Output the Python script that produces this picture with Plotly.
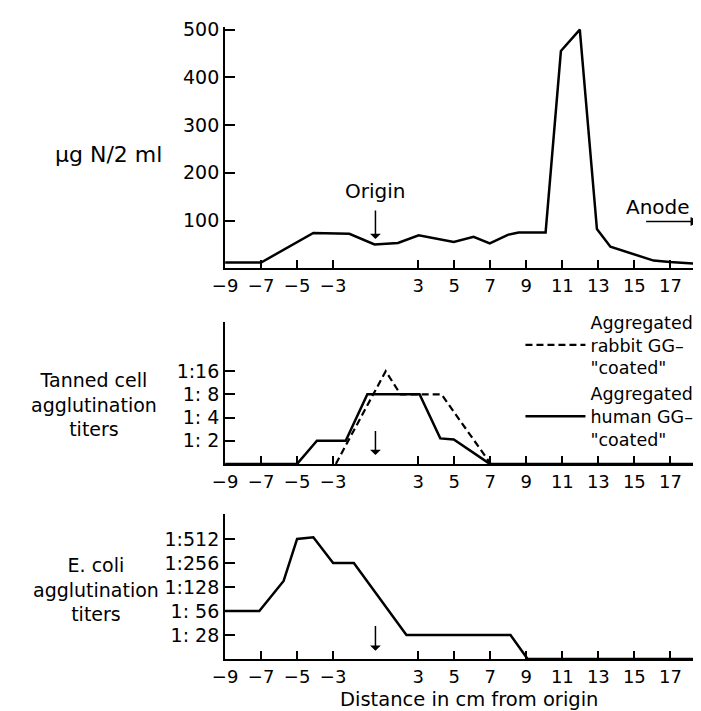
import plotly.graph_objects as go

W, H = 701, 711          # browser window
OFF = 8                  # page body margin that offsets the plot div
FONT = "DejaVu Sans"

# x axis: positions along the strip with their printed labels
tick_labels = ["−9", "−7", "−5", "−3", "3", "5", "7", "9", "11", "13", "15", "17"]
tick_pos = [-9, -7, -5, -3, 1.73, 3.73, 5.73, 7.73, 9.73, 11.73, 13.73, 15.73]
origin_pos = -0.65

# top panel: protein nitrogen (µg N / 2 ml)
n_pos = [-9, -7, -4.1, -2.1, -0.7, 0.6, 1.75, 3.7, 4.8, 5.7, 6.7, 7.3, 8.8, 9.65, 10.7, 11.65, 12.4, 14.8, 15.7, 17.46]
n_val = [12, 12, 74, 72, 50, 53, 69, 55, 66, 52, 70, 75, 75, 455, 500, 82, 45, 16, 13, 9]

# middle panel: tanned cell agglutination (levels 1..4 = 1:2..1:16)
tan_ticks = [1, 2, 3, 4]
tan_labels = ["1: 2", "1: 4", "1: 8", "1:16"]
rabbit_pos = [-2.85, -0.08, 0.74, 3.02, 5.75]
rabbit_lvl = [0, 4, 3, 3, 0]
human_pos = [-9, -5, -3.9, -2.3, -1.1, 1.8, 2.95, 3.7, 5.7, 17.46]
human_lvl = [0, 0, 1, 1, 3, 3, 1.1, 1.05, 0, 0]

# bottom panel: E. coli agglutination (levels 1..5 = 1:28..1:512)
eco_ticks = [1, 2, 3, 4, 5]
eco_labels = ["1: 28", "1: 56", "1:128", "1:256", "1:512"]
eco_pos = [-9, -7.1, -5.75, -5.0, -4.1, -3.0, -1.85, 1.07, 6.85, 7.8, 17.46]
eco_lvl = [2, 2, 3.25, 5, 5.07, 4, 4, 1, 1, 0, 0]

# ---- layout geometry (window pixels) ----
FW, FH = W - OFF, H - OFF

def xp(px):
    return (px - OFF) / FW

def yp(py):
    return 1 - (py - OFF) / FH

x0_px, px_per_unit = 216.0, 18.35
x_end = -9 + (W - x0_px) / px_per_unit
xdom = [xp(x0_px), 1.0]

top_dom = [yp(262.5), yp(18.3)]
mid_dom = [yp(460.7), yp(316.7)]
bot_dom = [yp(658.3), yp(511.7)]

fig = go.Figure()
line = dict(color="black", width=2.5)
fig.add_trace(go.Scatter(x=n_pos, y=n_val, mode="lines", line=line, showlegend=False, xaxis="x", yaxis="y"))
fig.add_trace(go.Scatter(x=rabbit_pos, y=rabbit_lvl, mode="lines",
                         line=dict(color="black", width=2.2, dash="7px,4px"),
                         name='Aggregated<br>rabbit GG–<br>"coated"', xaxis="x2", yaxis="y2"))
fig.add_trace(go.Scatter(x=human_pos, y=human_lvl, mode="lines", line=line,
                         name='Aggregated<br>human GG–<br>"coated"', xaxis="x2", yaxis="y2"))
fig.add_trace(go.Scatter(x=eco_pos, y=eco_lvl, mode="lines", line=line, showlegend=False, xaxis="x3", yaxis="y3"))

xtickfont = dict(family=FONT, size=18, color="black")
ytickfont = dict(family=FONT, size=19, color="black")
xcommon = dict(domain=xdom, range=[-9, x_end], tickvals=tick_pos, ticktext=tick_labels,
               showline=True, linecolor="black", linewidth=2, ticks="inside", ticklen=8,
               tickwidth=1.5, tickcolor="black", showgrid=False, zeroline=False, tickfont=xtickfont)
ycommon = dict(showline=True, linecolor="black", linewidth=2, ticks="inside", ticklen=10,
               tickwidth=1.5, tickcolor="black", showgrid=False, zeroline=False, tickfont=ytickfont)

fig.update_layout(
    width=FW, height=FH, margin=dict(l=0, r=0, t=0, b=0),
    paper_bgcolor="white", plot_bgcolor="white",
    font=dict(family=FONT, color="black"),
    xaxis=dict(xcommon, anchor="y"),
    yaxis=dict(ycommon, domain=top_dom, range=[0, 505], tickvals=[100, 200, 300, 400, 500], anchor="x"),
    xaxis2=dict(xcommon, anchor="y2"),
    yaxis2=dict(ycommon, domain=mid_dom, range=[0, 6.13], tickvals=tan_ticks, ticktext=tan_labels, anchor="x2"),
    xaxis3=dict(xcommon, anchor="y3"),
    yaxis3=dict(ycommon, domain=bot_dom, range=[0, 6.03], tickvals=eco_ticks, ticktext=eco_labels, anchor="x3"),
    legend=dict(x=xp(517), y=yp(299), xanchor="left", yanchor="top",
                font=dict(family=FONT, size=17.5, color="black"), itemwidth=60,
                bgcolor="rgba(0,0,0,0)", tracegroupgap=0),
)

def label(text, px, py, size):
    fig.add_annotation(text=text, x=xp(px), y=yp(py), xref="paper", yref="paper",
                       showarrow=False, xanchor="center", yanchor="middle", align="center",
                       font=dict(family=FONT, size=size, color="black"))

label("µg N/2 ml", 97, 147, 22)
label("Tanned cell<br>agglutination<br>titers", 82, 401, 19)
label("E. coli<br>agglutination<br>titers", 84, 588, 19)
label("Distance in cm from origin", 465, 699.5, 19.5)

arrow = dict(showarrow=True, arrowhead=1, arrowsize=1.2, arrowwidth=1.5, arrowcolor="black")
# Origin arrows
fig.add_annotation(text="Origin", x=origin_pos, y=61, xref="x", yref="y", ax=0, ay=-48,
                   startstandoff=6, font=dict(family=FONT, size=20, color="black"), **arrow)
fig.add_annotation(text="", x=origin_pos, y=0.38, ax=origin_pos, ay=1.48, xref="x2", yref="y2",
                   axref="x2", ayref="y2", **arrow)
fig.add_annotation(text="", x=origin_pos, y=0.34, ax=origin_pos, ay=1.44, xref="x3", yref="y3",
                   axref="x3", ayref="y3", **arrow)
# Anode
fig.add_annotation(text="Anode", x=15.05, y=128, xref="x", yref="y", showarrow=False,
                   font=dict(family=FONT, size=20, color="black"))
fig.add_annotation(text="", x=17.35, y=98, ax=14.3, ay=98, xref="x", yref="y", axref="x", ayref="y",
                   showarrow=True, arrowhead=2, arrowsize=1.2, arrowwidth=1.5, arrowcolor="black")

fig.write_html("out.html")
